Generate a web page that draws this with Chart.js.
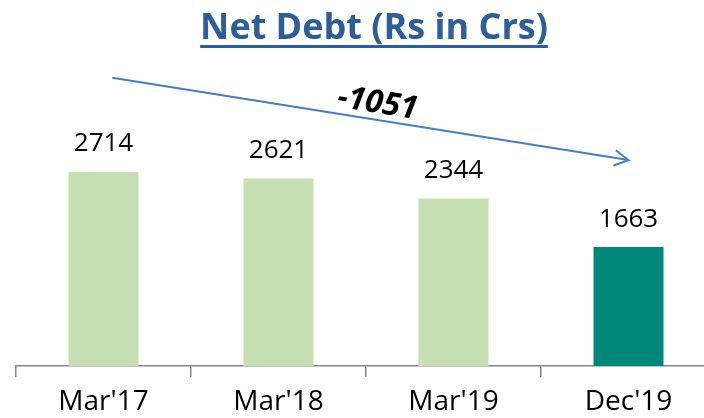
<!DOCTYPE html>
<html><head><meta charset="utf-8">
<script src="https://cdn.jsdelivr.net/npm/chart.js@4.4.1/dist/chart.umd.min.js"></script>
<style>
html,body{margin:0;padding:0;background:#fff;overflow:hidden;width:704px;height:418px;}
#wrap{width:730px;height:418px;position:relative;}
</style></head>
<body><div id="wrap"><canvas id="c"></canvas></div>
<script>
const categories = ["Mar'17", "Mar'18", "Mar'19", "Dec'19"];
const netDebt = [2714, 2621, 2344, 1663];
const barColors = ["#c6e0b4", "#c6e0b4", "#c6e0b4", "#00877a"];
const titleText = "Net Debt (Rs in Crs)";
const changeLabel = "-1051";
// arrow endpoints in data units: [categoryIndex, value]
const arrowFrom = [0.05, 4030];
const arrowTo = [3.0, 2880];

const FONT = "'Open Sans', sans-serif";

const overlay = {
  id: 'overlay',
  afterDraw(chart) {
    const ctx = chart.ctx;
    const xs = chart.scales.x, ys = chart.scales.y;
    // title
    ctx.save();
    ctx.font = "bold 36px " + FONT;
    ctx.fillStyle = "#2f5d95";
    ctx.textAlign = "center";
    ctx.textBaseline = "alphabetic";
    const tx = 374, ty = 39;
    ctx.fillText(titleText, tx, ty);
    const w = ctx.measureText(titleText).width;
    ctx.fillRect(tx - w / 2, ty + 6, w, 3);
    ctx.restore();
    // data labels
    const meta = chart.getDatasetMeta(0);
    ctx.save();
    ctx.font = "26px " + FONT;
    ctx.fillStyle = "#000";
    ctx.textAlign = "center";
    ctx.textBaseline = "middle";
    meta.data.forEach((bar, i) => {
      ctx.fillText(String(netDebt[i]), bar.x, bar.y - 28);
    });
    ctx.restore();
    // arrow
    const x0 = xs.getPixelForValue(arrowFrom[0]), y0 = ys.getPixelForValue(arrowFrom[1]);
    const x1 = xs.getPixelForValue(arrowTo[0]), y1 = ys.getPixelForValue(arrowTo[1]);
    const ang = Math.atan2(y1 - y0, x1 - x0);
    ctx.save();
    ctx.strokeStyle = "#4a7ebb";
    ctx.lineWidth = 2;
    ctx.beginPath();
    ctx.moveTo(x0, y0); ctx.lineTo(x1, y1);
    ctx.stroke();
    const ah = 16, aa = 0.5;
    ctx.beginPath();
    ctx.moveTo(x1 - ah * Math.cos(ang - aa), y1 - ah * Math.sin(ang - aa));
    ctx.lineTo(x1, y1);
    ctx.lineTo(x1 - ah * Math.cos(ang + aa), y1 - ah * Math.sin(ang + aa));
    ctx.stroke();
    // change label
    const mx = x0 + (x1 - x0) * 0.51, my = y0 + (y1 - y0) * 0.51;
    ctx.translate(mx + 2, my - 16);
    ctx.rotate(ang);
    ctx.font = "italic bold 32px " + FONT;
    ctx.fillStyle = "#000";
    ctx.textAlign = "center";
    ctx.textBaseline = "middle";
    ctx.fillText(changeLabel, 0, 0);
    ctx.restore();
  }
};

new Chart(document.getElementById('c'), {
  type: 'bar',
  data: {
    labels: categories,
    datasets: [{
      data: netDebt,
      backgroundColor: barColors,
      borderWidth: 0,
      categoryPercentage: 1,
      barPercentage: 0.4
    }]
  },
  options: {
    responsive: true,
    maintainAspectRatio: false,
    animation: false,
    events: [],
    layout: { padding: { top: 80, left: 16, right: 14, bottom: 0 } },
    plugins: { legend: { display: false }, title: { display: false }, tooltip: { enabled: false } },
    scales: {
      x: {
        type: 'category',
        offset: true,
        afterFit: (s) => { s.height = 52; },
        border: { display: true, color: '#868686', width: 1.5 },
        grid: { display: true, offset: true, drawOnChartArea: false, drawTicks: true, tickLength: 11, color: '#868686', lineWidth: 1.5 },
        ticks: { color: '#000', font: { family: FONT, size: 28 }, padding: 8 }
      },
      y: {
        display: false,
        min: 0, max: 4000
      }
    }
  },
  plugins: [overlay]
});
</script></body></html>
